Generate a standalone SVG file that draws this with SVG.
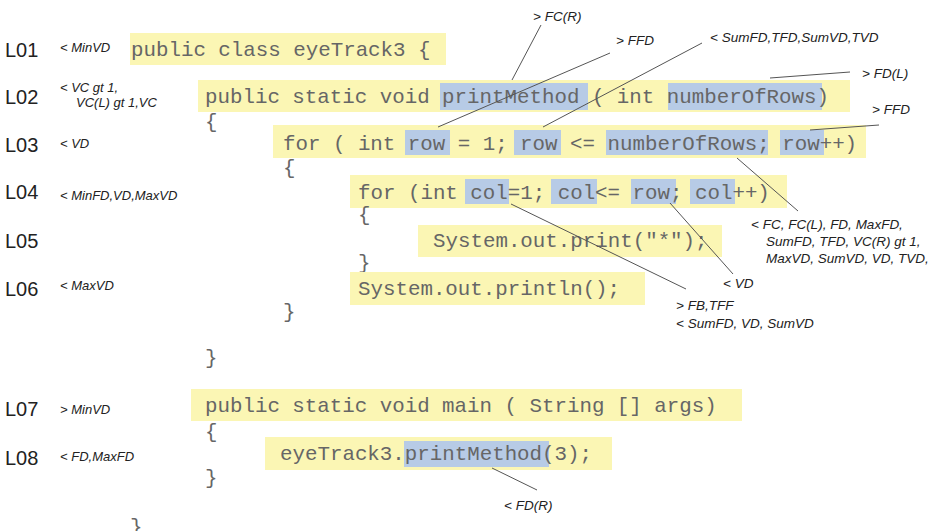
<svg xmlns="http://www.w3.org/2000/svg" width="930" height="531" viewBox="0 0 930 531">
<style>
.bg{fill:#ffffff}
.y{fill:#fbf6b4}
.b{fill:#b7cbe6}
.code{font-family:"Courier New","Liberation Mono",monospace;font-size:20.8px;fill:#666666;white-space:pre}
.ln{font-family:"Liberation Sans",Arial,sans-serif;font-size:20px;fill:#222}
.ann{font-family:"Liberation Sans",Arial,sans-serif;font-size:13px;font-style:italic;fill:#222}
.annr{font-family:"Liberation Sans",Arial,sans-serif;font-size:13.5px;font-style:italic;fill:#222}
.c{stroke:#555;stroke-width:1;fill:none}
</style>
<rect class="bg" x="0" y="0" width="930" height="531"/>

<g id="line-labels">
<text class="ln" x="5" y="57">L01</text>
<text class="ln" x="5" y="104">L02</text>
<text class="ln" x="5" y="152">L03</text>
<text class="ln" x="5" y="199">L04</text>
<text class="ln" x="5" y="248">L05</text>
<text class="ln" x="5" y="296">L06</text>
<text class="ln" x="5" y="416">L07</text>
<text class="ln" x="5" y="465">L08</text>
</g>

<g id="left-annotations">
<text class="ann" x="60" y="52">&lt; MinVD</text>
<text class="ann" x="60" y="92">&lt;  VC gt 1,</text>
<text class="ann" x="76" y="107">VC(L) gt 1,VC</text>
<text class="ann" x="60" y="148">&lt; VD</text>
<text class="ann" x="60" y="200">&lt; MinFD,VD,MaxVD</text>
<text class="ann" x="60" y="290">&lt; MaxVD</text>
<text class="ann" x="60" y="414">&gt; MinVD</text>
<text class="ann" x="60" y="461">&lt; FD,MaxFD</text>
</g>

<g id="L01">
<rect class="y" x="130" y="33" width="316" height="32"/>
<text class="code" x="131" y="56">public class eyeTrack3 {</text>
</g>

<g id="L02">
<rect class="y" x="198" y="80" width="652" height="32"/>
<rect class="b" x="440" y="83" width="148" height="27"/>
<rect class="b" x="668" y="83" width="154" height="27"/>
<text class="code" x="205" y="103">public static void printMethod ( int numberOfRows)</text>
<text class="code" x="205" y="128">{</text>
</g>

<g id="L03">
<rect class="y" x="273" y="125" width="593" height="33"/>
<rect class="b" x="405" y="130" width="45" height="25"/>
<rect class="b" x="514" y="130" width="47" height="25"/>
<rect class="b" x="606" y="130" width="162" height="25"/>
<rect class="b" x="780" y="130" width="44" height="25"/>
<text class="code" x="283" y="150">for ( int row = 1; row &lt;= numberOfRows; row++)</text>
<text class="code" x="283" y="174">{</text>
</g>

<g id="L04">
<rect class="y" x="350" y="175" width="437" height="33"/>
<rect class="b" x="465" y="179" width="44" height="25"/>
<rect class="b" x="551" y="179" width="46" height="25"/>
<rect class="b" x="631" y="179" width="45" height="25"/>
<rect class="b" x="690" y="179" width="45" height="25"/>
<text class="code" x="358" y="199">for (int col=1; col&lt;= row; col++)</text>
<text class="code" x="358" y="221">{</text>
</g>

<g id="L05">
<rect class="y" x="418" y="225" width="304" height="32"/>
<text class="code" x="433" y="247">System.out.print("*");</text>
<text class="code" x="358" y="269">}</text>
</g>

<g id="L06">
<rect class="y" x="350" y="272" width="295" height="33"/>
<text class="code" x="358" y="295">System.out.println();</text>
<text class="code" x="283" y="318">}</text>
<text class="code" x="205" y="364">}</text>
</g>

<g id="L07">
<rect class="y" x="191" y="389" width="551" height="32"/>
<text class="code" x="205" y="412">public static void main ( String [] args)</text>
<text class="code" x="205" y="438">{</text>
</g>

<g id="L08">
<rect class="y" x="265" y="437" width="347" height="33"/>
<rect class="b" x="404" y="441" width="145" height="26"/>
<text class="code" x="280" y="460">eyeTrack3.printMethod(3);</text>
<text class="code" x="205" y="484">}</text>
<text class="code" x="130" y="533">}</text>
</g>

<g id="right-annotations">
<text class="annr" x="533" y="21">&gt; FC(R)</text>
<text class="annr" x="616" y="45">&gt; FFD</text>
<text class="annr" x="710" y="42">&lt; SumFD,TFD,SumVD,TVD</text>
<text class="annr" x="862" y="78">&gt; FD(L)</text>
<text class="annr" x="872" y="114">&gt; FFD</text>
<text class="annr" x="751" y="229">&lt;   FC, FC(L), FD, MaxFD,</text>
<text class="annr" x="766" y="246">SumFD, TFD, VC(R) gt 1,</text>
<text class="annr" x="766" y="263">MaxVD, SumVD, VD, TVD,</text>
<text class="annr" x="723" y="288">&lt; VD</text>
<text class="annr" x="676" y="310">&gt; FB,TFF</text>
<text class="annr" x="676" y="328">&lt; SumFD, VD, SumVD</text>
<text class="annr" x="504" y="510">&lt; FD(R)</text>
</g>

<g id="connectors">
<line class="c" x1="541" y1="25" x2="512" y2="80"/>
<line class="c" x1="610" y1="53" x2="438" y2="127"/>
<line class="c" x1="702" y1="43" x2="543" y2="127"/>
<line class="c" x1="850" y1="72" x2="770" y2="78"/>
<line class="c" x1="879" y1="125" x2="810" y2="130"/>
<line class="c" x1="737" y1="158" x2="798" y2="211"/>
<line class="c" x1="670" y1="203" x2="733" y2="274"/>
<line class="c" x1="511" y1="204" x2="686" y2="289"/>
<line class="c" x1="492" y1="468" x2="537" y2="490"/>
</g>
</svg>
